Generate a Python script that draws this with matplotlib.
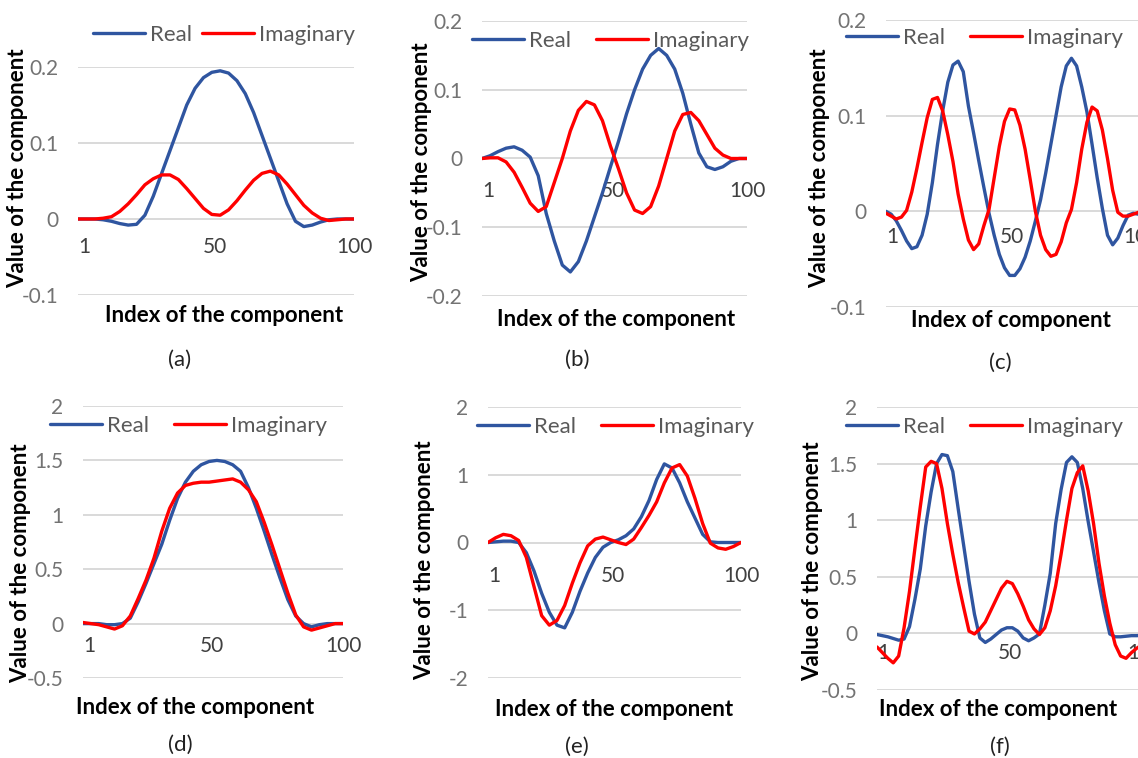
import matplotlib.pyplot as plt

plt.rcParams['font.family'] = ['Lato', 'DejaVu Sans']
plt.rcParams['axes.unicode_minus'] = False

# component index (every 3rd component)
index = list(range(1, 101, 3))
# finer sampling for the fast-oscillating panels (c) and (f)
index_fine = list(range(1, 100, 2)) + [100]

a_real = [0, 0, 0, -0.001, -0.003, -0.006, -0.008, -0.007, 0.005, 0.03,
          0.06, 0.09, 0.12, 0.15, 0.172, 0.186, 0.193, 0.195, 0.192, 0.182,
          0.165, 0.14, 0.11, 0.08, 0.05, 0.02, -0.003, -0.01, -0.008, -0.004,
          -0.001, 0, 0, 0]
a_imag = [0, 0, 0, 0.001, 0.003, 0.01, 0.02, 0.032, 0.045, 0.053,
          0.058, 0.058, 0.052, 0.04, 0.027, 0.014, 0.006, 0.005, 0.012, 0.024,
          0.038, 0.051, 0.06, 0.063, 0.058, 0.046, 0.032, 0.018, 0.008, 0.001,
          -0.002, -0.001, 0, 0]

b_real = [0, 0.004, 0.01, 0.015, 0.017, 0.012, 0.002, -0.025, -0.08, -0.12,
          -0.155, -0.165, -0.15, -0.12, -0.085, -0.05, -0.012, 0.025, 0.065, 0.1,
          0.13, 0.15, 0.16, 0.15, 0.13, 0.095, 0.05, 0.008, -0.012, -0.016,
          -0.012, -0.004, 0, 0]
b_imag = [0, 0.001, 0.001, -0.005, -0.02, -0.042, -0.065, -0.077, -0.07, -0.035,
          0.0, 0.04, 0.07, 0.083, 0.078, 0.055, 0.018, -0.015, -0.05, -0.075,
          -0.08, -0.07, -0.04, 0.0, 0.04, 0.064, 0.067, 0.055, 0.035, 0.015,
          0.005, 0, 0, 0]

c_real = [0, -0.003, -0.01, -0.02, -0.031, -0.039, -0.037, -0.025, -0.003, 0.03,
          0.07, 0.105, 0.135, 0.153, 0.157, 0.146, 0.11, 0.082, 0.053, 0.025,
          -0.002, -0.025, -0.045, -0.059, -0.067, -0.067, -0.06, -0.048, -0.031, -0.01,
          0.012, 0.04, 0.07, 0.1, 0.13, 0.152, 0.16, 0.152, 0.13, 0.104,
          0.07, 0.035, 0.003, -0.025, -0.035, -0.028, -0.015, -0.004, -0.002, -0.003,
          -0.003]
c_imag = [-0.002, -0.005, -0.008, -0.006, 0.001, 0.02, 0.045, 0.072, 0.098, 0.117,
          0.119, 0.105, 0.08, 0.052, 0.018, -0.008, -0.03, -0.04, -0.034, -0.015,
          0.002, 0.035, 0.068, 0.094, 0.107, 0.106, 0.09, 0.065, 0.033, 0.0,
          -0.025, -0.04, -0.047, -0.045, -0.032, -0.012, 0.002, 0.03, 0.065, 0.093,
          0.109, 0.105, 0.085, 0.055, 0.022, -0.001, -0.005, -0.005, -0.003, -0.001,
          0]

d_real = [0, 0, 0, -0.01, -0.01, 0.0, 0.05, 0.2, 0.37, 0.55,
          0.73, 0.95, 1.15, 1.3, 1.4, 1.46, 1.49, 1.5, 1.49, 1.46,
          1.4, 1.25, 1.06, 0.85, 0.63, 0.42, 0.22, 0.07, 0.0, -0.03,
          -0.01, 0, 0, 0]
d_imag = [0.01, 0.0, -0.01, -0.03, -0.05, -0.02, 0.07, 0.23, 0.4, 0.6,
          0.85, 1.06, 1.2, 1.27, 1.29, 1.3, 1.3, 1.31, 1.32, 1.33,
          1.3, 1.23, 1.12, 0.93, 0.72, 0.5, 0.28, 0.08, -0.03, -0.06,
          -0.04, -0.02, 0, 0]

e_real = [0, 0.01, 0.02, 0.02, 0.0, -0.15, -0.42, -0.75, -1.03, -1.22,
          -1.26, -1.03, -0.72, -0.45, -0.22, -0.07, 0.0, 0.04, 0.1, 0.2,
          0.38, 0.62, 0.93, 1.16, 1.1, 0.88, 0.6, 0.36, 0.12, 0.01,
          0, 0, 0, 0]
e_imag = [0, 0.07, 0.12, 0.1, 0.03, -0.22, -0.65, -1.08, -1.22, -1.15,
          -0.93, -0.6, -0.3, -0.05, 0.05, 0.08, 0.04, 0.0, -0.03, 0.05,
          0.22, 0.4, 0.6, 0.88, 1.1, 1.15, 0.98, 0.65, 0.28, -0.01,
          -0.08, -0.1, -0.06, 0]

f_real = [-0.01, -0.02, -0.03, -0.045, -0.06, -0.05, 0.06, 0.3, 0.57, 0.95,
          1.25, 1.5, 1.58, 1.57, 1.43, 1.1, 0.78, 0.46, 0.17, -0.04,
          -0.08, -0.05, -0.01, 0.03, 0.05, 0.05, 0.02, -0.04, -0.065, -0.04,
          -0.005, 0.25, 0.53, 0.97, 1.27, 1.51, 1.56, 1.51, 1.28, 0.99,
          0.72, 0.45, 0.2, -0.005, -0.03, -0.03, -0.025, -0.02, -0.02, -0.015,
          -0.015]
f_imag = [-0.12, -0.17, -0.22, -0.26, -0.2, 0.05, 0.37, 0.75, 1.12, 1.47,
          1.52, 1.5, 1.28, 0.97, 0.7, 0.45, 0.23, 0.02, -0.005, 0.04,
          0.1, 0.2, 0.3, 0.4, 0.46, 0.44, 0.35, 0.24, 0.12, 0.04,
          -0.01, 0.05, 0.2, 0.42, 0.7, 1.0, 1.28, 1.42, 1.48, 1.26,
          0.97, 0.62, 0.33, 0.09, -0.1, -0.2, -0.22, -0.17, -0.13, -0.1,
          -0.1]

small_ticks = [-0.1, 0, 0.1, 0.2]
small_labels = ['-0.1', '0', '0.1', '0.2']
b_ticks = [-0.2, -0.1, 0, 0.1, 0.2]
b_labels = ['-0.2', '-0.1', '0', '0.1', '0.2']
half_ticks = [-0.5, 0, 0.5, 1, 1.5, 2]
half_labels = ['-0.5', '0', '0.5', '1', '1.5', '2']
e_ticks = [-2, -1, 0, 1, 2]
e_labels = ['-2', '-1', '0', '1', '2']

x_ticks = [1, 50, 100]
x_tick_labels = ['1', '50', '100']
y_title = 'Value of the component'
x_titles = ['Index of the component', 'Index of the component', 'Index of component',
            'Index of the component', 'Index of the component', 'Index of the component']
captions = ['(a)', '(b)', '(c)', '(d)', '(e)', '(f)']
series = [(index, a_real, a_imag), (index, b_real, b_imag), (index_fine, c_real, c_imag),
          (index, d_real, d_imag), (index, e_real, e_imag), (index_fine, f_real, f_imag)]
ticks = [(small_ticks, small_labels), (b_ticks, b_labels), (small_ticks, small_labels),
         (half_ticks, half_labels), (e_ticks, e_labels), (half_ticks, half_labels)]

BLUE = '#2f55a0'
RED = '#ff0000'
W, H = 1138, 758

# pixel layout: plot box (left, top, right, bottom), xtick pad, legend (x, y, colsp),
# y title (x, y), x title (x, y), caption (x, y)
layout = [
    dict(box=(78, 67, 354, 295), xpad=13, leg=(93, 35, 0.45), yt=(18, 168), xt=(224, 316), cap=(180, 360)),
    dict(box=(482, 21, 747, 296), xpad=16, leg=(472, 41, 1.1), yt=(422, 162), xt=(616, 320), cap=(577, 360)),
    dict(box=(886, 20, 1141, 307), xpad=11, leg=(846, 38, 1.1), yt=(820, 168), xt=(1011, 321), cap=(1000, 363)),
    dict(box=(83, 406, 343, 678), xpad=9, leg=(50, 426, 1.1), yt=(21, 563), xt=(195, 708), cap=(180, 745)),
    dict(box=(488, 407, 741, 678), xpad=17, leg=(477, 427, 1.1), yt=(425, 560), xt=(614, 710), cap=(577, 747)),
    dict(box=(877, 407, 1145, 690), xpad=7, leg=(846, 427, 1.1), yt=(813, 561), xt=(998, 710), cap=(1000, 747)),
]

fig = plt.figure(figsize=(W / 100, H / 100), dpi=100)

for (xs, real, imag), (yt, ylab), lay, xtitle, cap in zip(series, ticks, layout, x_titles, captions):
    l, t, r, b = lay['box']
    ax = fig.add_axes([l / W, 1 - b / H, (r - l) / W, (b - t) / H])
    ax.plot(xs, real, color=BLUE, lw=2.4, label='Real',
            solid_capstyle='round', solid_joinstyle='round')
    ax.plot(xs, imag, color=RED, lw=2.4, label='Imaginary',
            solid_capstyle='round', solid_joinstyle='round')
    ax.set_xlim(1, 100)
    ax.set_ylim(yt[0], yt[-1])
    ax.set_yticks(yt)
    ax.set_yticklabels(ylab, color='#737373', fontsize=15)
    ax.grid(axis='y', color='#d9d9d9', lw=1.4)
    ax.set_axisbelow(True)
    for s in ax.spines.values():
        s.set_visible(False)
    ax.spines['bottom'].set_position(('data', 0))
    ax.set_xticks(x_ticks)
    ax.set_xticklabels(x_tick_labels, color='#404040', fontsize=15)
    ax.get_xticklabels()[0].set_ha('left')
    ax.tick_params(axis='x', length=0, pad=lay['xpad'])
    ax.tick_params(axis='y', length=0, pad=14)

    lx, ly, cs = lay['leg']
    ax.legend(loc='center left', bbox_to_anchor=(lx / W, 1 - ly / H),
              bbox_transform=fig.transFigure, ncol=2, frameon=False,
              fontsize=16, handlelength=2.35, handletextpad=0.22,
              columnspacing=cs, borderpad=0, borderaxespad=0,
              labelcolor='#595959')

    fig.text(lay['yt'][0] / W, 1 - lay['yt'][1] / H, y_title, rotation=90,
             ha='center', va='center', fontsize=16, fontweight='bold')
    fig.text(lay['xt'][0] / W, 1 - lay['xt'][1] / H, xtitle,
             ha='center', va='center', fontsize=16, fontweight='bold')
    fig.text(lay['cap'][0] / W, 1 - lay['cap'][1] / H, cap,
             ha='center', va='center', fontsize=16, color='#222222')

fig.savefig('out.png', dpi=100, facecolor='white')
